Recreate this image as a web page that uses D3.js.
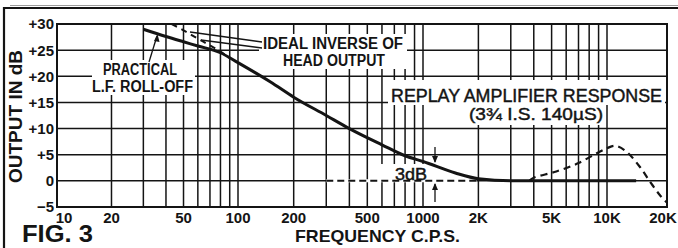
<!DOCTYPE html>
<html><head><meta charset="utf-8">
<script src="https://cdn.jsdelivr.net/npm/d3@7"></script>
<style>body{margin:0;background:#fff}svg{display:block}</style>
</head><body>
<svg id="c" width="678" height="248"></svg>
<script>
// ---- data ----
const xTickValues = [10,20,50,100,200,500,1000,2000,5000,10000,20000];
const xTickLabels = ["10","20","50","100","200","500","1000","2K","5K","10K","20K"];
const xGridValues = [20,30,40,50,60,70,80,90,100,200,300,400,500,600,700,800,900,1000,2000,3000,4000,5000,6000,7000,8000,9000,10000];
const yTickValues = [30,25,20,15,10,5,0,-5];
const yTickLabels = ["+30","+25","+20","+15","+10","+5","0","\u22125"];
const yGridValues = [25,20,15,10,5,0];

// practical replay amplifier response (solid)
const replayFreq = [30,40,50,60,80,100,150,200,300,400,600,800,1000,1500,2000,3000,5000,10000,14000];
const replayDb   = [29.0,27.6,26.6,25.8,24.5,22.6,18.9,16.0,12.5,10.0,6.9,4.8,3.7,1.5,0.4,0,0,0,0];
// ideal inverse of head output at L.F. (dashed)
const idealFreq = [43,50,60,70,80,90];
const idealDb   = [30,28.8,27.2,25.9,24.7,23.5];
// H.F. dashed curve
const hfFreq = [3800,4000,5300,7000,8800,10000,11000,12500,14600,16400,18400,20000];
const hfDb   = [0.1,0.6,1.8,3.4,5.3,6.25,6.7,5.6,2.7,-0.1,-2.7,-4.2];
// flat reference dashed 0 dB
const refFreq = [300,1950];
const refDb = [0,0];

// ---- scales ----
const x = d3.scaleLog().domain([10,100,1000,10000,20000]).range([57,238,423,607,667]);
const y = d3.scaleLinear().domain([-5,30]).range([207,24]);
const ink = "#141414";
const svg = d3.select("#c");
const X0 = x(10), X1 = x(20000), Y0 = y(30), Y1 = y(-5);

// outer frame
svg.append("path").attr("d",`M4,250 L4,8 L690,8`).attr("fill","none").attr("stroke",ink).attr("stroke-width",2.2);
svg.append("line").attr("x1",10).attr("x2",678).attr("y1",5.5).attr("y2",5.5).attr("stroke",ink).attr("stroke-width",0.7).attr("opacity",0.6);

// grid
const g = svg.append("g");
g.selectAll(".vg").data(xGridValues).join("line")
  .attr("x1",d=>x(d)).attr("x2",d=>x(d)).attr("y1",Y0).attr("y2",Y1)
  .attr("stroke",ink).attr("stroke-width",1.5);
g.selectAll(".hg").data(yGridValues).join("line")
  .attr("x1",X0).attr("x2",X1).attr("y1",d=>y(d)).attr("y2",d=>y(d))
  .attr("stroke",ink).attr("stroke-width",1.5);
g.append("rect").attr("x",X0).attr("y",Y0).attr("width",X1-X0).attr("height",Y1-Y0)
  .attr("fill","none").attr("stroke",ink).attr("stroke-width",2);

// knockouts behind labels
const ko = [[92,60,103,35],[259,34,148,35],[388,80,277,25],[466,104,139,21],[381,164,50,16]];
svg.selectAll(".ko").data(ko).join("rect")
  .attr("x",d=>d[0]).attr("y",d=>d[1]).attr("width",d=>d[2]).attr("height",d=>d[3]).attr("fill","#fff");

// dashed 0 dB reference (erase grid, then dash)
svg.append("line").attr("x1",x(refFreq[0])).attr("x2",x(refFreq[1])).attr("y1",y(0)).attr("y2",y(0))
  .attr("stroke","#fff").attr("stroke-width",3);
svg.append("line").attr("x1",x(refFreq[0])).attr("x2",x(refFreq[1])).attr("y1",y(refDb[0])).attr("y2",y(refDb[1]))
  .attr("stroke",ink).attr("stroke-width",2).attr("stroke-dasharray","7,4");

// curves
const line = d3.line().x(d=>x(d[0])).y(d=>y(d[1])).curve(d3.curveMonotoneX);
svg.append("path").attr("d",line(replayFreq.map((f,i)=>[f,replayDb[i]])))
  .attr("fill","none").attr("stroke",ink).attr("stroke-width",3);
svg.append("path").attr("d",line(idealFreq.map((f,i)=>[f,idealDb[i]])))
  .attr("fill","none").attr("stroke",ink).attr("stroke-width",2).attr("stroke-dasharray","6,5");
svg.append("path").attr("d",d3.line().x(d=>x(d[0])).y(d=>y(d[1])).curve(d3.curveCatmullRom)(hfFreq.map((f,i)=>[f,hfDb[i]])))
  .attr("fill","none").attr("stroke",ink).attr("stroke-width",2.2).attr("stroke-dasharray","7,5");

// axis labels
const font = "'Liberation Sans', Arial, sans-serif";
svg.selectAll(".yt").data(yTickValues).join("text")
  .attr("x",54).attr("y",d=>y(d)).attr("dy","0.36em").attr("text-anchor","end")
  .attr("font-family",font).attr("font-weight","bold").attr("font-size",15).attr("fill",ink)
  .text((d,i)=>yTickLabels[i]);
const xOff = {10:7,20000:-4};
svg.selectAll(".xt").data(xTickValues).join("text")
  .attr("x",d=>x(d)+(xOff[d]||0)).attr("y",223).attr("text-anchor","middle")
  .attr("font-family",font).attr("font-weight","bold").attr("font-size",15).attr("fill",ink)
  .text((d,i)=>xTickLabels[i]);

function txt(s,cx,by,size,len,weight){
  const t = svg.append("text").attr("x",cx).attr("y",by).attr("text-anchor","middle")
    .attr("font-family",font).attr("font-weight",weight||"bold").attr("font-size",size).attr("fill",ink)
    .attr("textLength",len).attr("lengthAdjust","spacingAndGlyphs").text(s);
  if (weight==="normal") t.attr("stroke",ink).attr("stroke-width",0.45);
  return t;
}
txt("FREQUENCY  C.P.S.",377.5,242,17,165);
svg.append("text").attr("x",22).attr("y",242).attr("font-family",font).attr("font-weight","bold")
  .attr("font-size",23).attr("fill",ink).attr("textLength",71).attr("lengthAdjust","spacingAndGlyphs").text("FIG. 3");
svg.append("text").attr("transform","translate(21.5,116.5) rotate(-90)").attr("text-anchor","middle")
  .attr("font-family",font).attr("font-weight","bold").attr("font-size",18).attr("fill",ink)
  .attr("textLength",133).attr("lengthAdjust","spacingAndGlyphs").text("OUTPUT IN dB");

txt("PRACTICAL",140,75,16,74);
txt("L.F. ROLL-OFF",142.5,92,16,101);
txt("IDEAL INVERSE OF",333,49,16,140);
txt("HEAD OUTPUT",334,66,16,102);
txt("REPLAY AMPLIFIER RESPONSE",526.5,102,18,271,"normal");
txt("(3\u00BE I.S. 140\u00B5S)",536,120,17,134,"normal");
txt("3dB",411,180,16,32,"normal");

// leaders
const lead = [[149,62,157,36],[262,42,190,32],[262,48,201,40]];
svg.selectAll(".ld").data(lead).join("line")
  .attr("x1",d=>d[0]).attr("y1",d=>d[1]).attr("x2",d=>d[2]).attr("y2",d=>d[3])
  .attr("stroke",ink).attr("stroke-width",1.3);
svg.append("path").attr("d","M157.5,34 L154,41 L159.5,42 Z").attr("fill",ink);

// 3 dB arrows
const ax = 435;
svg.append("line").attr("x1",ax).attr("x2",ax).attr("y1",147).attr("y2",162).attr("stroke",ink).attr("stroke-width",1.3);
svg.append("path").attr("d",`M${ax},${163} l-3,-7 l6,0 Z`).attr("fill",ink);
svg.append("line").attr("x1",ax).attr("x2",ax).attr("y1",184).attr("y2",202).attr("stroke",ink).attr("stroke-width",1.3);
svg.append("path").attr("d",`M${ax},${183} l-3,7 l6,0 Z`).attr("fill",ink);
</script>
</body></html>
